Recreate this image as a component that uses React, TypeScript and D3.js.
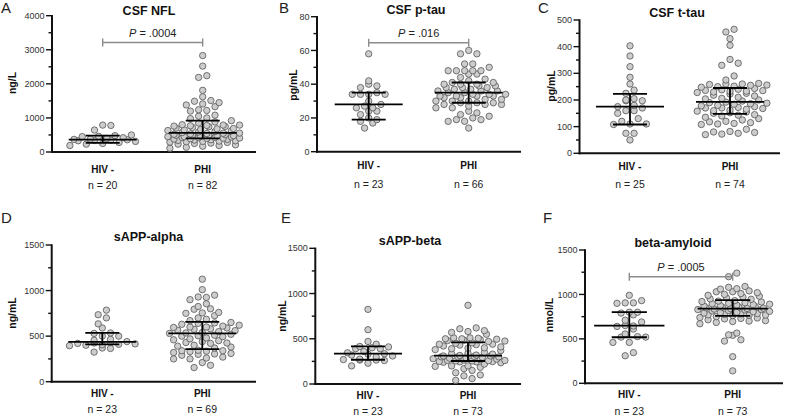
import React from 'react';
import * as d3 from 'd3';

// ---------- data ----------
const groups = ['HIV -', 'PHI'];
const letters = ['A', 'B', 'C', 'D', 'E', 'F'];
const titles = ['CSF NFL', 'CSF p-tau', 'CSF t-tau', 'sAPP-alpha', 'sAPP-beta', 'beta-amyloid'];
const units = ['ng/L', 'pg/mL', 'pg/mL', 'ng/mL', 'ng/mL', 'nmol/L'];
const yMax = [4000, 80, 500, 1500, 1500, 1500];
const yStep = [1000, 20, 100, 500, 500, 500];
const pValues = ['.0004', '.016', null, null, null, '.0005'];
const nCounts = [[20, 82], [23, 66], [25, 74], [23, 69], [23, 73], [23, 73]];

const nflHiv = [790, 780, 645, 500, 480, 460, 450, 420, 400, 380, 370, 360, 350, 340, 330, 310, 280, 250, 230, 190];
const nflPhi = [2830, 2520, 2240, 2190, 1810, 1620, 1510, 1490, 1450, 1410, 1380, 1330, 1240, 1220, 1200, 1080, 1050, 1000, 980, 920,
  880, 850, 800, 790, 790, 780, 770, 760, 750, 740, 720, 700, 690, 680, 660, 650, 630, 620, 600, 590, 570,
  555, 550, 540, 530, 520, 510, 500, 500, 490, 480, 470, 460, 450, 450, 440, 430, 420, 420, 410, 405, 400,
  390, 380, 370, 360, 350, 340, 330, 320, 310, 300, 290, 280, 260, 250, 230, 210, 190, 170, 140, 110];

const ptauHiv = [58, 42, 40, 39, 38, 35, 34, 34, 34, 34, 30, 28, 27, 26, 26, 24, 24, 22, 20, 19, 18, 17, 14];
const ptauPhi = [60, 58, 58, 52, 52, 50, 48, 48, 48, 48, 48, 46, 46, 44, 43, 42,
  41, 41, 40, 40, 40, 39, 39, 38, 38, 38, 37, 37, 36, 36, 36, 35, 35,
  34, 34, 34, 33, 33, 33, 33, 32, 32, 31, 31, 30, 30, 30, 29, 29, 29,
  28, 28, 28, 27, 26, 26, 24, 23, 22, 21, 20, 19, 19, 18, 18, 14];

const ttauHiv = [403, 365, 325, 285, 260, 237, 225, 205, 200, 197, 197, 180, 175, 170, 160, 160, 150, 130, 120, 110, 110, 108, 75, 75, 50];
const ttauPhi = [465, 455, 430, 405, 352, 338, 330, 290, 275,
  262, 260, 260, 258, 256, 255, 252, 250, 248,
  243, 240, 238, 236, 235, 233, 232, 230, 228, 225, 222, 218, 215, 210, 206, 204, 200, 196,
  192, 190, 188, 186, 184, 180, 178, 175, 172, 170, 170, 168, 165, 162, 160, 158, 155, 152, 150,
  145, 143, 140, 135, 130, 125, 120, 118, 115, 112, 110, 108, 90, 82, 80, 78, 75, 72, 70];

const alphaHiv = [785, 735, 700, 635, 590, 535, 530, 500, 500, 465, 455, 440, 430, 425, 420, 415, 410, 405, 400, 395, 370, 365, 325];
const alphaPhi = [1125, 1010, 950, 930, 925, 900, 855, 825, 800, 795, 760, 755, 750, 725, 700, 685, 670,
  650, 645, 640, 630, 620, 610, 600, 600, 595, 590, 580, 575, 565, 560, 550, 540, 535,
  530,
  520, 510, 505, 500, 495, 480, 470, 460, 450, 440, 430, 425, 420, 400, 390, 380, 370,
  345, 340, 340, 335, 330, 320, 310, 305, 300, 290, 270, 260, 250, 250, 210, 180, 155];

const betaHiv = [825, 600, 470, 440, 415, 410, 400, 390, 390, 360, 345, 335, 330, 320, 310, 300, 275, 270, 265, 265, 260, 230, 200];
const betaPhi = [870, 620, 610, 590, 580, 570, 550, 510, 510, 505, 500, 500, 495, 490, 485, 480, 475, 470,
  455, 450, 440, 440, 435, 430, 420, 410, 400, 395, 390, 380, 370, 350, 340, 335, 330, 320,
  315,
  310, 310, 305, 300, 300, 300, 295, 290, 285, 280, 275, 270, 265, 260, 260, 258, 256, 255,
  250, 248, 245, 245, 240, 235, 220, 200, 200, 195, 185, 170, 150, 125, 100, 90, 60, 40];

const abHiv = [990, 930, 905, 905, 900, 800, 800, 790, 770, 710, 690, 650, 645, 640, 610, 555, 525, 520, 520, 460, 460, 345, 310];
const abPhi = [1240, 1200, 1090, 1080, 1065, 1060, 1040, 1030, 1030, 1020, 1010, 1000, 990, 980, 970, 960, 950, 945,
  930, 925, 920, 915, 905, 900, 895, 890, 885, 880, 875, 870, 865, 860, 855, 850, 845, 842,
  840,
  835, 830, 830, 825, 820, 815, 810, 805, 800, 795, 790, 785, 780, 775, 770, 768, 765, 762,
  750, 740, 735, 730, 725, 715, 705, 700, 695, 685, 670, 565, 545, 540, 490, 475, 300, 140];

// [Q1, median, Q3] per group
const nflStats = [[270, 362, 480], [400, 560, 920]];
const ptauStats = [[19, 28, 35], [29, 35, 41]];
const ttauStats = [[108, 175, 223], [148, 193, 245]];
const alphaStats = [[410, 437, 535], [358, 530, 657]];
const betaStats = [[268, 335, 415], [254, 313, 460]];
const abStats = [[518, 650, 800], [758, 840, 937]];

const seriesData = [
  [nflHiv, nflPhi], [ptauHiv, ptauPhi], [ttauHiv, ttauPhi],
  [alphaHiv, alphaPhi], [betaHiv, betaPhi], [abHiv, abPhi],
];
const statsData = [nflStats, ptauStats, ttauStats, alphaStats, betaStats, abStats];

// ---------- layout ----------
const layout = [
  { axisX: 52, yTop: 15.7, yBot: 152, xEnd: 256, c1: 102.7, c2: 202.7, titleX: 149, titleY: 15, letterX: 1, letterY: 13, ylabX: 13.5, ylabY: 83, catY: 172.5, nY: 188.5, bracketY: 42.5 },
  { axisX: 317, yTop: 16.7, yBot: 151.7, xEnd: 521, c1: 368.7, c2: 468.7, titleX: 416, titleY: 14, letterX: 279, letterY: 13, ylabX: 294.5, ylabY: 85, catY: 168.5, nY: 187.5, bracketY: 42.7 },
  { axisX: 579.5, yTop: 20, yBot: 153.3, xEnd: 780, c1: 630, c2: 730, titleX: 677, titleY: 17, letterX: 538, letterY: 13, ylabX: 552, ylabY: 86, catY: 169.5, nY: 187.5, bracketY: 0 },
  { axisX: 51.7, yTop: 245, yBot: 381.7, xEnd: 256, c1: 102.3, c2: 202.3, titleX: 148.5, titleY: 240.5, letterX: 1, letterY: 223, ylabX: 13.5, ylabY: 313, catY: 396.5, nY: 412.5, bracketY: 0 },
  { axisX: 315.3, yTop: 248.3, yBot: 384, xEnd: 521, c1: 368, c2: 468, titleX: 410, titleY: 245, letterX: 281, letterY: 223, ylabX: 283, ylabY: 316, catY: 398.5, nY: 414.5, bracketY: 0 },
  { axisX: 585, yTop: 250, yBot: 383.3, xEnd: 783, c1: 629.3, c2: 732.7, titleX: 673, titleY: 246.5, letterX: 543, letterY: 223, ylabX: 550, ylabY: 315, catY: 397.5, nY: 414.5, bracketY: 276.7 },
];

const FONT = '"Liberation Sans", Arial, Helvetica, sans-serif';
const R = 3.2;
const SPACING = 8.2;
const BIN_H = 6;
const MAX_ROW = 9;

type Pt = { v: number; x: number; y: number };

function swarm(values: number[], y: d3.ScaleLinear<number, number>, cx: number): Pt[] {
  const pts = values.map((v) => ({ v, py: y(v) })).sort((a, b) => b.py - a.py);
  const rows: { pts: { v: number; py: number }[]; shift: number }[] = [];
  let cur: { v: number; py: number }[] = [];
  let start = 0;
  let shift = 0;
  let overflow = 0;
  pts.forEach((p) => {
    if (cur.length && (start - p.py > BIN_H || cur.length >= MAX_ROW)) {
      const full = cur.length >= MAX_ROW && start - p.py <= BIN_H;
      rows.push({ pts: cur, shift });
      overflow = full ? overflow + 1 : 0;
      shift = full ? (overflow % 2 ? SPACING / 2 : -SPACING / 4) : 0;
      cur = [];
    }
    if (!cur.length) start = p.py;
    cur.push(p);
  });
  if (cur.length) rows.push({ pts: cur, shift });
  const out: Pt[] = [];
  rows.forEach((r) => {
    const n = r.pts.length;
    const half = Math.ceil(n / 2);
    r.pts.forEach((p, k) => {
      const slot = k < half ? 2 * k : 2 * (k - half) + 1;
      const off = (slot - (n - 1) / 2) * SPACING;
      out.push({ v: p.v, x: cx + off + r.shift, y: p.py });
    });
  });
  return out;
}

function Panel({ i }: { i: number }) {
  const L = layout[i];
  const y = d3.scaleLinear().domain([0, yMax[i]]).range([L.yBot, L.yTop]);
  const bw = L.c2 - L.c1;
  const x = d3.scaleBand<string>().domain(groups).range([L.c1 - bw / 2, L.c2 + bw / 2]).padding(0);
  const major = d3.range(0, yMax[i] + 1e-9, yStep[i]);
  const minor = d3.range(yStep[i] / 2, yMax[i], yStep[i]);
  const medHalf = 0.34 * bw;
  const capHalf = 0.17 * bw;
  return (
    <g>
      <text x={L.letterX} y={L.letterY} fontSize={15} fontFamily={FONT} fill="#222">{letters[i]}</text>
      <text x={L.titleX} y={L.titleY} fontSize={12.5} fontWeight="bold" textAnchor="middle" fontFamily={FONT} fill="#111">{titles[i]}</text>
      <text transform={`translate(${L.ylabX},${L.ylabY}) rotate(-90)`} fontSize={10.5} fontWeight="bold" textAnchor="middle" dominantBaseline="middle" fontFamily={FONT} fill="#111">{units[i]}</text>
      {major.map((t) => (
        <g key={'M' + t}>
          <line x1={L.axisX - 6} x2={L.axisX} y1={y(t)} y2={y(t)} stroke="#111" strokeWidth={1.4} />
          <text x={L.axisX - 7.5} y={y(t)} dy="0.35em" textAnchor="end" fontSize={9} fontFamily={FONT} fill="#333">{t}</text>
        </g>
      ))}
      {minor.map((t) => (
        <line key={'m' + t} x1={L.axisX - 3.5} x2={L.axisX} y1={y(t)} y2={y(t)} stroke="#111" strokeWidth={1.4} />
      ))}
      <line x1={L.axisX} x2={L.axisX} y1={L.yTop - 0.7} y2={L.yBot + 1} stroke="#111" strokeWidth={2} />
      <line x1={L.axisX - 1} x2={L.xEnd} y1={L.yBot} y2={L.yBot} stroke="#111" strokeWidth={2} />
      {groups.map((g, gi) => {
        const cx = (x(g) as number) + x.bandwidth() / 2;
        const pts = swarm(seriesData[i][gi], y, cx);
        const [q1, med, q3] = statsData[i][gi];
        return (
          <g key={g}>
            {pts.map((p, k) => (
              <circle key={k} cx={p.x} cy={p.y} r={R} fill="#cdcdcd" stroke="#555" strokeWidth={0.8} />
            ))}
            <line x1={cx - medHalf} x2={cx + medHalf} y1={y(med)} y2={y(med)} stroke="#000" strokeWidth={1.8} />
            <line x1={cx} x2={cx} y1={y(q1)} y2={y(q3)} stroke="#000" strokeWidth={1.8} />
            <line x1={cx - capHalf} x2={cx + capHalf} y1={y(q1)} y2={y(q1)} stroke="#000" strokeWidth={1.8} />
            <line x1={cx - capHalf} x2={cx + capHalf} y1={y(q3)} y2={y(q3)} stroke="#000" strokeWidth={1.8} />
            <text x={cx} y={L.catY} textAnchor="middle" fontSize={10} fontWeight="bold" fontFamily={FONT} fill="#111">{g}</text>
            <text x={cx} y={L.nY} textAnchor="middle" fontSize={10.5} fontFamily={FONT} fill="#222">{`n = ${nCounts[i][gi]}`}</text>
          </g>
        );
      })}
      {pValues[i] && (() => {
        const a = (x(groups[0]) as number) + x.bandwidth() / 2;
        const b = (x(groups[1]) as number) + x.bandwidth() / 2;
        const by = L.bracketY;
        return (
          <g>
            <line x1={a} x2={b} y1={by} y2={by} stroke="#8c8c8c" strokeWidth={1.6} />
            <line x1={a} x2={a} y1={by - 4} y2={by + 4} stroke="#8c8c8c" strokeWidth={1.4} />
            <line x1={b} x2={b} y1={by - 4} y2={by + 4} stroke="#8c8c8c" strokeWidth={1.4} />
            <text x={(a + b) / 2} y={by - 5.5} textAnchor="middle" fontSize={11} fontFamily={FONT} fill="#222">
              <tspan fontStyle="italic">P</tspan>
              <tspan>{` = ${pValues[i]}`}</tspan>
            </text>
          </g>
        );
      })()}
    </g>
  );
}

export default function App() {
  return (
    <svg width={786} height={420} style={{ position: 'absolute', left: 0, top: 0, background: '#fff' }}>
      <rect width={786} height={420} fill="#fff" />
      {letters.map((_, i) => <Panel key={i} i={i} />)}
    </svg>
  );
}
